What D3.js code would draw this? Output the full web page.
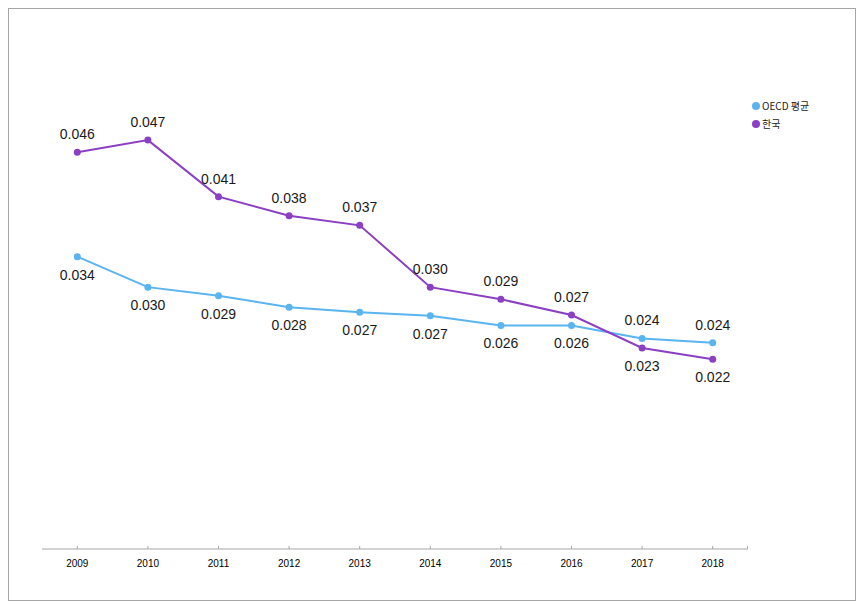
<!DOCTYPE html>
<html><head><meta charset="utf-8">
<script src="https://cdn.jsdelivr.net/npm/d3@7"></script>
<style>body{margin:0;background:#fff;} svg{display:block;}</style>
</head><body>
<script>
const years = ["2009","2010","2011","2012","2013","2014","2015","2016","2017","2018"];
const oecd  = [0.0336,0.0301,0.0291,0.0278,0.0272,0.0268,0.0257,0.0257,0.0242,0.0237];
const korea = [0.0456,0.0470,0.0405,0.0383,0.0372,0.0301,0.0287,0.0269,0.0231,0.0218];
const seriesNames = ["OECD 평균","한국"];
// label placement: 1 = above, -1 = below
const oecdLabelSide  = [-1,-1,-1,-1,-1,-1,-1,-1,1,1];
const koreaLabelSide = [1,1,1,1,1,1,1,1,-1,-1];

const W=863,H=608;
const svg=d3.select("body").append("svg").attr("width",W).attr("height",H);
svg.append("rect").attr("x",8.5).attr("y",8.5).attr("width",847).attr("height",592)
  .attr("fill","#fff").attr("stroke","#a6a6a6");

const x=d3.scaleBand().domain(years).range([42,748]);
const y=d3.scaleLinear().domain([0,0.05]).range([549,114]);
const cx=d=>x(d)+x.bandwidth()/2;

const axisG=svg.append("g").attr("transform","translate(0,549)");
axisG.append("line").attr("x1",42).attr("x2",748).attr("stroke","#a6a6a6");
axisG.selectAll("line.t").data(years.concat(["end"])).join("line").attr("class","t")
  .attr("x1",d=>d==="end"?747.5:cx(d)).attr("x2",d=>d==="end"?747.5:cx(d))
  .attr("y1",0).attr("y2",-3).attr("stroke","#a6a6a6");
axisG.selectAll("text").data(years).join("text")
  .attr("x",d=>cx(d)).attr("y",18).attr("text-anchor","middle")
  .attr("font-family","Liberation Sans, Arial, sans-serif").attr("font-size",10).attr("fill","#000")
  .text(d=>d);

const fmt=d3.format(".3f");
const series=[
  {name:seriesNames[0],vals:oecd,side:oecdLabelSide,color:"#5ab4f0"},
  {name:seriesNames[1],vals:korea,side:koreaLabelSide,color:"#8b3fc2"}
];
const line=d3.line().x((d,i)=>cx(years[i])).y(d=>y(d));
series.forEach(s=>{
  svg.append("path").attr("d",line(s.vals)).attr("fill","none")
    .attr("stroke",s.color).attr("stroke-width",2);
  svg.append("g").selectAll("circle").data(s.vals).join("circle")
    .attr("cx",(d,i)=>cx(years[i])).attr("cy",d=>y(d)).attr("r",3.5).attr("fill",s.color);
  svg.append("g").selectAll("text").data(s.vals).join("text")
    .attr("x",(d,i)=>cx(years[i])).attr("y",(d,i)=>y(d)+(s.side[i]>0?-13:23))
    .attr("text-anchor","middle")
    .attr("font-family","Liberation Sans, Arial, sans-serif").attr("font-size",14).attr("fill","#1a1a1a")
    .text(d=>fmt(d));
});

const leg=svg.append("g");
series.forEach((s,i)=>{
  leg.append("circle").attr("cx",756).attr("cy",106+i*18).attr("r",4).attr("fill",s.color);
  leg.append("text").attr("x",762).attr("y",110+i*18)
    .attr("font-family","Noto Sans CJK KR, Liberation Sans, sans-serif").attr("font-size",10).attr("fill","#222")
    .text(s.name);
});
</script>
</body></html>
